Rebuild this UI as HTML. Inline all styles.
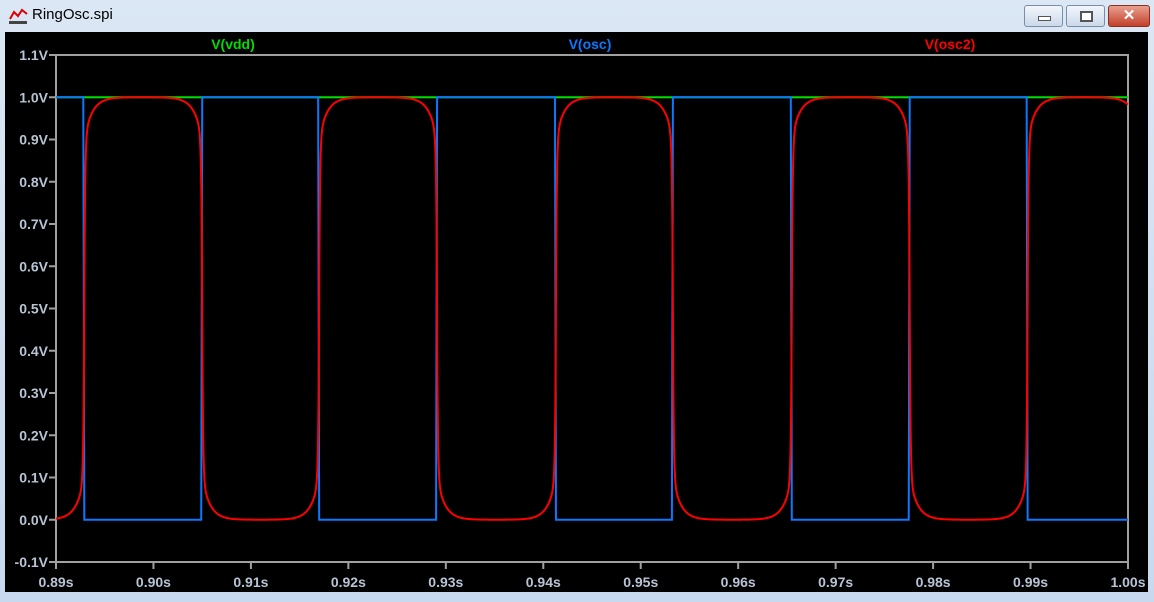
<!DOCTYPE html>
<html><head><meta charset="utf-8"><style>
html,body{margin:0;padding:0;background:#cfdff0;}
body{width:1154px;height:602px;position:relative;overflow:hidden;font-family:"Liberation Sans",sans-serif;}
#win{position:absolute;left:0;top:0;width:1154px;height:602px;background:linear-gradient(#dbe7f4,#c7d9ee);}
#title{position:absolute;left:32px;top:6px;font-size:15px;color:#000;}
.btn{position:absolute;top:5px;height:20px;border:1px solid #7a8ea8;border-radius:3px;background:linear-gradient(#f2f6fb,#cbd9ea);}
</style></head><body>
<div id="win">
<svg style="position:absolute;left:8px;top:6px" width="22" height="20"><rect x="1" y="15" width="18" height="3" fill="#444"/><polyline points="2,13 6,6 10,10 14,4 19,8" fill="none" stroke="#d00" stroke-width="2"/></svg>
<div id="title">RingOsc.spi</div>
<div class="btn" style="left:1024px;width:37px"><div style="position:absolute;left:13px;top:10px;width:11px;height:3px;background:#fff;border:1px solid #555"></div></div>
<div class="btn" style="left:1066px;width:37px"><div style="position:absolute;left:13px;top:5px;width:9px;height:7px;border:2px solid #555;background:#fff"></div></div>
<div class="btn" style="left:1108px;width:40px;background:linear-gradient(#e9a08f,#c2402a);border-color:#8a3020"><div style="position:absolute;left:0;top:0;width:40px;text-align:center;color:#fff;font-weight:bold;font-size:15px;line-height:20px">✕</div></div>
<svg id="chart" style="position:absolute;left:0;top:0" width="1154" height="602"></svg>
</div>
<script>
const tickV=[1.1,1.0,0.9,0.8,0.7,0.6,0.5,0.4,0.3,0.2,0.1,0.0,-0.1];
const tickVLabels=["1.1V","1.0V","0.9V","0.8V","0.7V","0.6V","0.5V","0.4V","0.3V","0.2V","0.1V","0.0V","-0.1V"];
const tickT=[0.89,0.90,0.91,0.92,0.93,0.94,0.95,0.96,0.97,0.98,0.99,1.00];
const tickTLabels=["0.89s","0.90s","0.91s","0.92s","0.93s","0.94s","0.95s","0.96s","0.97s","0.98s","0.99s","1.00s"];
const vddLevel=[1.0];
const oscEdges=[0.8928,0.9049,0.9169,0.9290,0.9412,0.9532,0.9654,0.9775,0.9896,1.0017];
const oscStartLevel=[1.0];
const osc2Edges=[0.8929,0.9050,0.9170,0.9291,0.9413,0.9533,0.9655,0.9776,0.9897,1.0014];
const osc2StartLevel=[0.0];
const seriesNames=["V(vdd)","V(osc)","V(osc2)"];
const seriesColors=["#00dd00","#0a78ff","#ff0000"];

const L=56,R=1128,T=55,B=562;
const x=t=>L+(t-0.89)/(0.11)*(R-L);
const y=v=>T+(1.1-v)/1.2*(B-T);
const svg=document.getElementById('chart');
const NS='http://www.w3.org/2000/svg';
function mk(tag,a){const e=document.createElementNS(NS,tag);for(const k in a)e.setAttribute(k,a[k]);svg.appendChild(e);return e;}
const bg=mk('rect',{x:5,y:32,width:1143,height:560,fill:'#000'});


const frame=mk('rect',{x:L,y:T,width:R-L,height:B-T,fill:'none',stroke:'#a0a0a0','stroke-width':2});


tickV.forEach((v,i)=>{
 const l=mk('line',{x1:L-7,x2:L,y1:y(v),y2:y(v),stroke:'#a0a0a0','stroke-width':2});
 
 
 const t=mk('text',{x:L-8,y:y(v)+5,'text-anchor':'end',fill:'#b8c4d4','font-size':14,'font-weight':'bold','font-family':'Liberation Sans'});
 t.textContent=tickVLabels[i];
 
 
});
tickT.forEach((tv,i)=>{
 const l=mk('line',{x1:x(tv),x2:x(tv),y1:B,y2:B+7,stroke:'#a0a0a0','stroke-width':2});
 
 
 const t=mk('text',{x:x(tv),y:B+25,'text-anchor':'middle',fill:'#b8c4d4','font-size':14,'font-weight':'bold','font-family':'Liberation Sans'});
 t.textContent=tickTLabels[i];
 
 
});
[233,590,950].forEach((cx,i)=>{
 const t=mk('text',{x:cx,y:49,'text-anchor':'middle',fill:seriesColors[i],'font-size':14,'font-weight':'bold','font-family':'Liberation Sans'});
 t.textContent=seriesNames[i];
 
 
});
// vdd
const pv=mk('path',{d:`M${L},${y(vddLevel[0])}L${R},${y(vddLevel[0])}`,stroke:seriesColors[0],'stroke-width':2,fill:'none'});


// osc: square wave
let lvl=oscStartLevel[0],d=`M${L},${y(lvl)}`;
oscEdges.forEach(e=>{if(e>1.0)return;const nl=1-lvl;d+=`L${x(e)},${y(lvl)}L${x(e)+1},${y(nl)}`;lvl=nl;});
d+=`L${R},${y(lvl)}`;
const po=mk('path',{d,stroke:seriesColors[1],'stroke-width':2,fill:'none'});


// osc2: sharp edges with exponential tails
function osc2(t){
 let best=null,bi=0;
 osc2Edges.forEach((e,i)=>{if(best===null||Math.abs(t-e)<Math.abs(t-best)){best=e;bi=i;}});
 const rising=(osc2StartLevel[0]===0)?(bi%2===0):(bi%2===1);
 const dt=t-best,a=Math.abs(dt);
 const s=Math.sign(dt)*(1-0.8*Math.exp(-a/0.00008)-0.2*Math.exp(-a/0.0008));
 const v=0.5+0.5*s;
 return rising?v:1-v;
}
let d2='';
for(let px=L;px<=R;px+=0.25){const t=0.89+(px-L)/(R-L)*0.11;d2+=(d2?'L':'M')+px+','+y(osc2(t)).toFixed(2);}
const p2=mk('path',{d:d2,stroke:seriesColors[2],'stroke-width':2,fill:'none'});


</script>
</body></html>
